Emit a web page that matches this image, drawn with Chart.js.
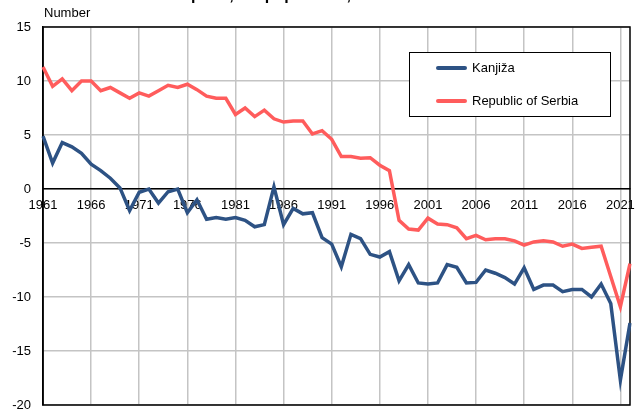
<!DOCTYPE html>
<html>
<head>
<meta charset="utf-8">
<script src="https://cdn.jsdelivr.net/npm/chart.js"></script>
<style>
  html, body { margin: 0; padding: 0; background: #fff; }
</style>
</head>
<body>
<canvas id="chart" width="644" height="410"></canvas>
<script>
// Years on the x axis
const years = [
  "1961", "1962", "1963", "1964", "1965", "1966", "1967", "1968", "1969", "1970",
  "1971", "1972", "1973", "1974", "1975", "1976", "1977", "1978", "1979", "1980",
  "1981", "1982", "1983", "1984", "1985", "1986", "1987", "1988", "1989", "1990",
  "1991", "1992", "1993", "1994", "1995", "1996", "1997", "1998", "1999", "2000",
  "2001", "2002", "2003", "2004", "2005", "2006", "2007", "2008", "2009", "2010",
  "2011", "2012", "2013", "2014", "2015", "2016", "2017", "2018", "2019", "2020",
  "2021", "2022"
];

// Kanjiža values
const kanjiza = [
  4.9, 2.4, 4.3, 3.9, 3.3, 2.3, 1.7, 1.0, 0.1, -2.0,
  -0.3, 0.0, -1.3, -0.25, 0.0, -2.2, -1.0, -2.8, -2.65, -2.8,
  -2.65, -2.9, -3.5, -3.3, 0.2, -3.3, -1.8, -2.3, -2.2, -4.5,
  -5.1, -7.2, -4.2, -4.6, -6.05, -6.3, -5.8, -8.5, -7.0, -8.7,
  -8.8, -8.7, -7.0, -7.25, -8.7, -8.65, -7.5, -7.8, -8.2, -8.8,
  -7.3, -9.3, -8.9, -8.9, -9.5, -9.3, -9.3, -10.0, -8.8, -10.6,
  -17.7, -12.4
];

// Republic of Serbia values
const serbia = [
  11.3, 9.5, 10.2, 9.1, 10.0, 10.0, 9.1, 9.4, 8.9, 8.4,
  8.9, 8.6, 9.1, 9.6, 9.4, 9.7, 9.2, 8.6, 8.4, 8.4,
  6.9, 7.5, 6.7, 7.3, 6.5, 6.2, 6.3, 6.3, 5.1, 5.4,
  4.6, 3.0, 3.0, 2.85, 2.9, 2.2, 1.7, -2.9, -3.7, -3.8,
  -2.7, -3.25, -3.3, -3.6, -4.6, -4.3, -4.7, -4.6, -4.6, -4.8,
  -5.2, -4.9, -4.8, -4.9, -5.3, -5.1, -5.5, -5.4, -5.3, -8.1,
  -10.9, -6.9
];

const seriesNames = ["Kanjiža", "Republic of Serbia"];
const titleText = "Natural increase per 1,000 population, 1961–2022";
const unitText = "Number";
const tickEvery = 5;

const fontFamily = "'Liberation Sans', Arial, sans-serif";
const gridGray = "#c4c4c4";

// Frame, unit label, cut-off title and boxed legend
const extras = {
  id: "extras",
  beforeDatasetsDraw(chart) {
    const { ctx, chartArea: a } = chart;
    ctx.save();
    ctx.strokeStyle = "#000";
    ctx.lineWidth = 1.5;
    ctx.strokeRect(a.left, a.top, a.right - a.left, a.bottom - a.top);
    ctx.restore();
  },
  afterDraw(chart) {
    const { ctx } = chart;
    ctx.save();
    ctx.fillStyle = "#000";
    ctx.font = "bold 16px " + fontFamily;
    ctx.textBaseline = "alphabetic";
    ctx.fillText(titleText, 62, 0);

    ctx.font = "13px " + fontFamily;
    ctx.textBaseline = "middle";
    ctx.fillText(unitText, 44, 13);

    // legend box
    const bx = 409, by = 52, bw = 201, bh = 64;
    ctx.fillStyle = "#fff";
    ctx.fillRect(bx, by, bw, bh);
    ctx.strokeStyle = "#000";
    ctx.lineWidth = 1;
    ctx.strokeRect(bx + 0.5, by + 0.5, bw, bh);
    chart.data.datasets.forEach((ds, i) => {
      const y = 68 + i * 33;
      ctx.strokeStyle = ds.borderColor;
      ctx.lineWidth = 4;
      ctx.lineCap = "round";
      ctx.beginPath();
      ctx.moveTo(438, y);
      ctx.lineTo(465, y);
      ctx.stroke();
      ctx.fillStyle = "#000";
      ctx.fillText(ds.label, 472, y);
    });
    ctx.restore();
  }
};

new Chart(document.getElementById("chart").getContext("2d"), {
  type: "line",
  data: {
    labels: years,
    datasets: [
      {
        label: seriesNames[0],
        data: kanjiza,
        borderColor: "#2d5284",
        borderWidth: 3.5,
        pointRadius: 0,
        tension: 0,
        fill: false
      },
      {
        label: seriesNames[1],
        data: serbia,
        borderColor: "#ff5c5c",
        borderWidth: 3.5,
        pointRadius: 0,
        tension: 0,
        fill: false
      }
    ]
  },
  options: {
    responsive: false,
    animation: false,
    layout: { padding: { top: 27, right: 14, bottom: 5, left: 0 } },
    plugins: {
      legend: { display: false },
      tooltip: { enabled: false }
    },
    scales: {
      x: {
        position: { y: 0 },
        offset: false,
        grid: {
          color: ctx => (ctx.index % tickEvery === 0 ? gridGray : "transparent"),
          lineWidth: 1.5,
          drawTicks: false
        },
        border: { color: "#000", width: 1.5 },
        ticks: {
          autoSkip: false,
          maxRotation: 0,
          minRotation: 0,
          padding: 9,
          color: "#000",
          font: { family: fontFamily, size: 13 },
          callback: function (value, index) {
            return index % tickEvery === 0 ? this.getLabelForValue(value) : "";
          }
        }
      },
      y: {
        min: -20,
        max: 15,
        grid: { color: gridGray, lineWidth: 1.5, drawTicks: false },
        border: { color: "#000", width: 1.5 },
        ticks: {
          stepSize: 5,
          padding: 12,
          color: "#000",
          font: { family: fontFamily, size: 13 }
        },
        afterFit: scale => {
          scale.width = 43;
          scale.paddingTop = 0;
          scale.paddingBottom = 0;
        }
      }
    }
  },
  plugins: [extras]
});
</script>
</body>
</html>
